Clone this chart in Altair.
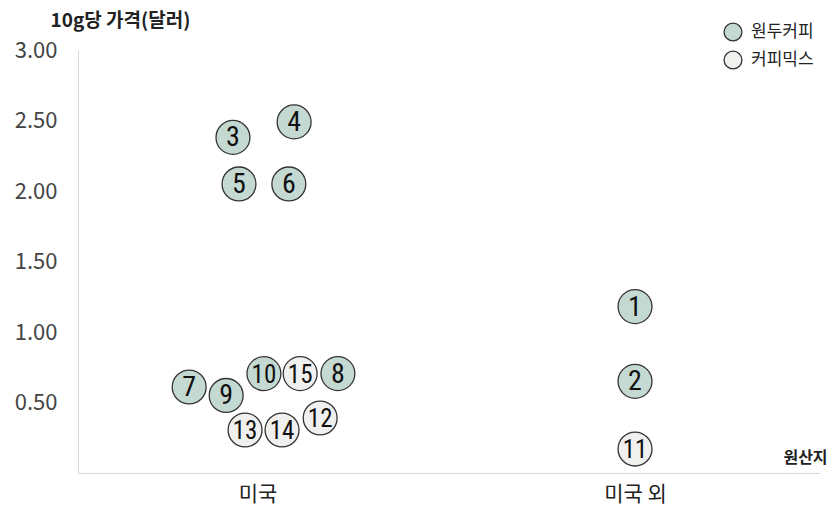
import altair as alt
import pandas as pd

# ---- data ----
ids = list(range(1, 16))
origin_cats = ["미국", "미국 외"]
origins = ["미국 외", "미국 외", "미국", "미국", "미국", "미국", "미국", "미국",
           "미국", "미국", "미국 외", "미국", "미국", "미국", "미국"]
type_cats = ["원두커피", "커피믹스"]
types = ["원두커피"] * 10 + ["커피믹스"] * 5
prices = [1.18, 0.65, 2.38, 2.49, 2.05, 2.05, 0.61, 0.705, 0.55, 0.705,
          0.17, 0.39, 0.305, 0.305, 0.705]
# horizontal jitter of each point within its origin column (column spacing = 1)
jitter = [0.0, 0.0, -0.065, 0.097, -0.049, 0.083, -0.181, 0.213, -0.083, 0.017,
          0.0, 0.166, -0.033, 0.065, 0.113]
y_ticks = [0.5, 1.0, 1.5, 2.0, 2.5, 3.0]

colors = ["#c5d9d3", "#f0f0ef"]
KR = "Noto Sans CJK KR"
NUM = "Liberation Sans Narrow, Roboto Condensed, Liberation Sans, sans-serif"

df = pd.DataFrame({
    "id": ids,
    "origin": origins,
    "type": types,
    "price": prices,
    "jitter": jitter,
})
df["pos"] = df["origin"].map({c: i + 1 for i, c in enumerate(origin_cats)}) + df["jitter"]

label_expr = " : ".join(
    f"datum.value == {i + 1} ? '{c}'" for i, c in enumerate(origin_cats[:-1])
) + f" : '{origin_cats[-1]}'"

x_enc = alt.X(
    "pos:Q",
    scale=alt.Scale(domain=[0.5245, 2.49], nice=False, zero=False),
    axis=alt.Axis(
        values=[i + 1 for i in range(len(origin_cats))],
        labelExpr=label_expr,
        grid=False, ticks=False, tickSize=0,
        domainColor="#d9d9d9", domainWidth=1,
        labelFont=KR, labelFontSize=21, labelColor="#222",
        labelPadding=10,
        title="원산지", titleAngle=0, titleAlign="center", titleBaseline="middle",
        titleX=727, titleY=-16, titleFont=KR, titleFontSize=16,
        titleFontWeight="bold", titleColor="#222",
    ),
)
y_enc = alt.Y(
    "price:Q",
    scale=alt.Scale(domain=[0, 3], nice=False),
    axis=alt.Axis(
        values=y_ticks, format=".2f",
        grid=False, ticks=False, tickSize=0,
        domainColor="#d9d9d9", domainWidth=1,
        labelFont=KR, labelFontSize=22, labelColor="#444", labelPadding=21,
        title="10g당 가격(달러)", titleAngle=0, titleAlign="left",
        titleBaseline="middle", titleX=-28, titleY=-30,
        titleFont=KR, titleFontSize=19, titleFontWeight="bold", titleColor="#222",
    ),
)

circles = alt.Chart(df).mark_circle(
    size=1150, opacity=1, stroke="#333", strokeWidth=1.3
).encode(
    x=x_enc,
    y=y_enc,
    color=alt.Color(
        "type:N",
        scale=alt.Scale(domain=type_cats, range=colors),
        legend=alt.Legend(
            title=None, orient="none", legendX=645, legendY=-28,
            symbolType="circle", symbolSize=320, symbolStrokeColor="#333",
            symbolStrokeWidth=1.3, symbolOpacity=1,
            labelFont=KR, labelFontSize=17, labelColor="#222",
            labelOffset=8, rowPadding=4,
        ),
    ),
)

labels = alt.Chart(df).mark_text(
    baseline="middle", align="center", font=NUM, color="#111", dy=1
).encode(
    x="pos:Q",
    y="price:Q",
    text="id:N",
    size=alt.condition("datum.id >= 10", alt.value(25), alt.value(28)),
)

chart = alt.layer(circles, labels).properties(
    width=742, height=423,
    autosize=alt.AutoSizeParams(type="none"),
    padding={"left": 70, "top": 42, "right": 12, "bottom": 35},
    background="white",
).configure_view(strokeWidth=0)

chart.save("out.html", embed_options={"renderer": "svg", "actions": False})
